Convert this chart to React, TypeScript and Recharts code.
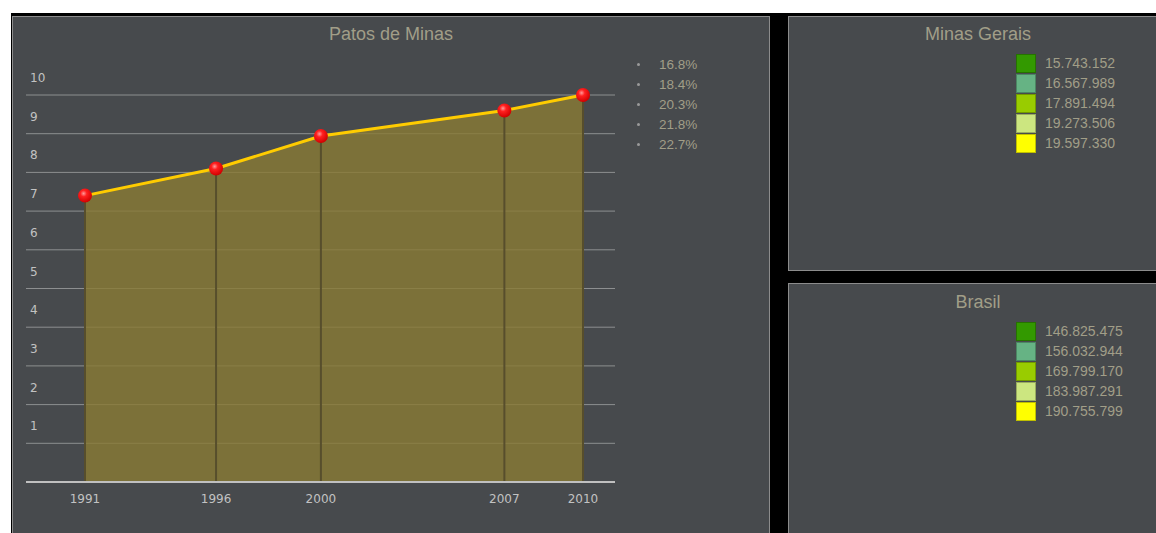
import React from 'react';
import {
  ComposedChart,
  Area,
  Line,
  XAxis,
  YAxis,
  CartesianGrid,
  ReferenceLine,
} from 'recharts';

const years = [1991, 1996, 2000, 2007, 2010];
const values = [7.4, 8.1, 8.94, 9.6, 10.0];
const pctLabels = ['16.8%', '18.4%', '20.3%', '21.8%', '22.7%'];
const yTicks = [0, 1, 2, 3, 4, 5, 6, 7, 8, 9, 10];
const mgLabels = ['15.743.152', '16.567.989', '17.891.494', '19.273.506', '19.597.330'];
const brLabels = ['146.825.475', '156.032.944', '169.799.170', '183.987.291', '190.755.799'];
const swatchColors = ['#339900', '#66b384', '#99cc00', '#cce680', '#ffff00'];

const data = years.map((y, i) => ({ year: y, value: values[i] }));

const PANEL_BG = '#474a4d';
const PANEL_BORDER = '#8c8c8c';
const TEXT_COLOR = '#a19e88';
const TICK_COLOR = '#c2c2c2';

const renderYTick = (props: any) => {
  const { y, payload, index } = props;
  if (payload.value === 0) return <g key={`yt-${index}`} />;
  return (
    <text
      key={`yt-${index}`}
      x={30}
      y={y - 17}
      dominantBaseline="central"
      fill={TICK_COLOR}
      fontSize={12}
      fontFamily="DejaVu Sans, Verdana, sans-serif"
    >
      {payload.value}
    </text>
  );
};

const renderXTick = (props: any) => {
  const { x, y, payload, index } = props;
  return (
    <text
      key={`xt-${index}`}
      x={x}
      y={y}
      dy={9}
      textAnchor="middle"
      dominantBaseline="central"
      fill={TICK_COLOR}
      fontSize={12}
      fontFamily="DejaVu Sans, Verdana, sans-serif"
    >
      {payload.value}
    </text>
  );
};

const RedDot = (props: any) => {
  const { cx, cy, index } = props;
  return <circle key={`dot-${index}`} cx={cx} cy={cy} r={7} fill="url(#redBall)" />;
};

const SwatchLegend = ({ labels, top }: { labels: string[]; top: number }) => (
  <div style={{ position: 'absolute', left: 1016, top }}>
    {labels.map((l, i) => (
      <div key={l} style={{ display: 'flex', alignItems: 'center', height: 20 }}>
        <div
          style={{
            width: 18,
            height: 17,
            background: swatchColors[i],
            border: '1px solid rgba(0,0,0,0.25)',
          }}
        />
        <span
          style={{
            marginLeft: 9,
            fontFamily: 'Liberation Sans, Arial, sans-serif',
            fontSize: 14,
            color: TEXT_COLOR,
          }}
        >
          {l}
        </span>
      </div>
    ))}
  </div>
);

const titleStyle: React.CSSProperties = {
  position: 'absolute',
  fontFamily: 'Liberation Sans, Arial, sans-serif',
  fontSize: 18,
  color: TEXT_COLOR,
  textAlign: 'center',
  lineHeight: '20px',
};

export default function App() {
  return (
    <div
      style={{
        position: 'absolute',
        left: 0,
        top: 0,
        width: 1156,
        height: 533,
        overflow: 'hidden',
        background: '#ffffff',
      }}
    >
      <svg width={0} height={0} style={{ position: 'absolute' }}>
        <defs>
          <radialGradient id="redBall" cx="40%" cy="35%" r="65%">
            <stop offset="0%" stopColor="#ff9a9a" />
            <stop offset="35%" stopColor="#ff2020" />
            <stop offset="100%" stopColor="#d00000" />
          </radialGradient>
        </defs>
      </svg>
      <div style={{ position: 'absolute', left: 11, top: 13, width: 1145, height: 520, background: '#000' }} />
      <div
        style={{
          position: 'absolute',
          left: 12,
          top: 16,
          width: 756,
          height: 530,
          background: PANEL_BG,
          border: `1px solid ${PANEL_BORDER}`,
        }}
      />
      <div
        style={{
          position: 'absolute',
          left: 788,
          top: 16,
          width: 380,
          height: 253,
          background: PANEL_BG,
          border: `1px solid ${PANEL_BORDER}`,
        }}
      />
      <div
        style={{
          position: 'absolute',
          left: 788,
          top: 283,
          width: 380,
          height: 300,
          background: PANEL_BG,
          border: `1px solid ${PANEL_BORDER}`,
        }}
      />

      <div style={{ ...titleStyle, left: 12, width: 758, top: 24 }}>Patos de Minas</div>
      <div style={{ ...titleStyle, left: 788, width: 380, top: 24 }}>Minas Gerais</div>
      <div style={{ ...titleStyle, left: 788, width: 380, top: 292 }}>Brasil</div>

      <SwatchLegend labels={mgLabels} top={53} />
      <SwatchLegend labels={brLabels} top={321} />

      <div style={{ position: 'absolute', left: 634, top: 54 }}>
        {pctLabels.map((p) => (
          <div key={p} style={{ display: 'flex', alignItems: 'center', height: 20 }}>
            <div style={{ width: 3, height: 3, borderRadius: 2, background: '#9a9a9a', marginLeft: 3 }} />
            <span
              style={{
                marginLeft: 19,
                fontFamily: 'Liberation Sans, Arial, sans-serif',
                fontSize: 13.5,
                color: TEXT_COLOR,
              }}
            >
              {p}
            </span>
          </div>
        ))}
      </div>

      <div style={{ position: 'absolute', left: 0, top: 0 }}>
        <ComposedChart
          width={770}
          height={533}
          data={data}
          margin={{ top: 95, right: 155, bottom: 21, left: 0 }}
        >
          <CartesianGrid horizontal vertical={false} stroke="#8d8f90" strokeWidth={1} />
          <XAxis
            dataKey="year"
            type="number"
            domain={[1991, 2010]}
            ticks={years}
            padding={{ left: 59, right: 32 }}
            height={30}
            axisLine={{ stroke: '#c0c0c0', strokeWidth: 2 }}
            tickLine={false}
            tick={renderXTick}
            interval={0}
          />
          <YAxis
            domain={[0, 10]}
            ticks={yTicks}
            width={26}
            axisLine={false}
            tickLine={false}
            tick={renderYTick}
            interval={0}
          />
          <Area
            type="linear"
            dataKey="value"
            fill="#8a7b34"
            fillOpacity={0.8}
            stroke="none"
            dot={false}
            activeDot={false}
            isAnimationActive={false}
          />
          {data.map((d) => (
            <ReferenceLine
              key={d.year}
              segment={[
                { x: d.year, y: 0 },
                { x: d.year, y: d.value },
              ]}
              stroke="#574e2c"
              strokeWidth={2}
            />
          ))}
          <Line
            type="linear"
            dataKey="value"
            stroke="#ffcc00"
            strokeWidth={3}
            dot={<RedDot />}
            activeDot={false}
            isAnimationActive={false}
          />
        </ComposedChart>
      </div>
    </div>
  );
}
